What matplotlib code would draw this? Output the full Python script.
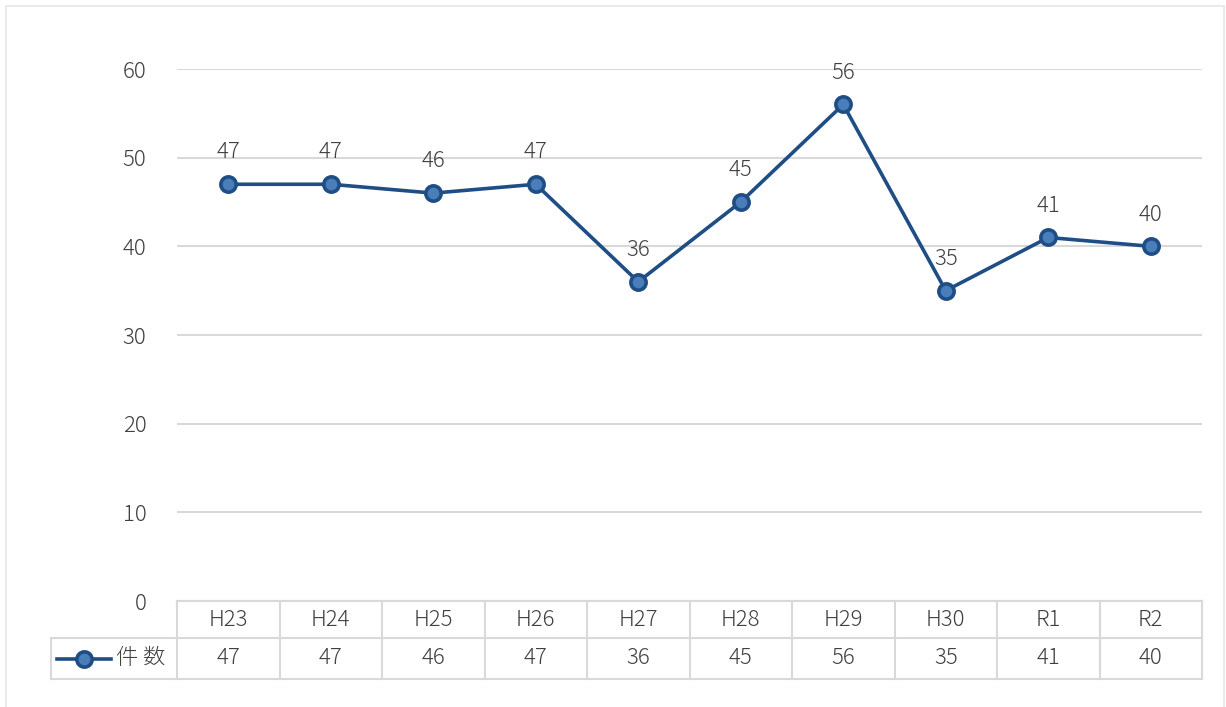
import matplotlib.pyplot as plt
import matplotlib.transforms as mtransforms
from matplotlib.lines import Line2D
from matplotlib.patches import Rectangle

# データ
categories = ['H23', 'H24', 'H25', 'H26', 'H27', 'H28', 'H29', 'H30', 'R1', 'R2']
counts = [47, 47, 46, 47, 36, 45, 56, 35, 41, 40]
series_name = '件 数'
y_ticks = [0, 10, 20, 30, 40, 50, 60]

plt.rcParams['font.family'] = ['Noto Sans CJK JP', 'DejaVu Sans']
plt.rcParams['font.weight'] = 'light'

LINE_COLOR = '#1f4e85'
MARKER_FACE = '#4a7ebb'
GRID_COLOR = '#d9d9d9'
TEXT_COLOR = '#404040'
FS = 16

W, H = 1226, 707
fig = plt.figure(figsize=(W / 100, H / 100), dpi=100)

# 外枠
fig.patches.append(Rectangle((6 / W, -0.01), (1224 - 6) / W, 1.01 - 6 / H,
                             transform=fig.transFigure, fill=False,
                             edgecolor='#e6e6e6', linewidth=1.2))

left, right, top, bottom = 177, 1202, 69, 601
ax = fig.add_axes([left / W, 1 - bottom / H, (right - left) / W, (bottom - top) / H])

x = list(range(len(categories)))
ax.plot(x, counts, color=LINE_COLOR, linewidth=2.6, marker='o', markersize=11,
        markerfacecolor=MARKER_FACE, markeredgecolor=LINE_COLOR, markeredgewidth=2.6,
        zorder=3, clip_on=False)

for xi, v in zip(x, counts):
    ax.annotate(str(v), (xi, v), xytext=(0, 15), textcoords='offset points',
                ha='center', va='bottom', fontsize=FS, color=TEXT_COLOR, annotation_clip=False)

# 軸設定
ax.set_xlim(-0.5, len(categories) - 0.5)
ax.set_ylim(0, 60)
ax.set_yticks(y_ticks)
ax.set_yticklabels([str(t) for t in y_ticks], fontsize=FS, color=TEXT_COLOR)
ax.tick_params(axis='y', length=0, pad=22)
ax.set_xticks([])
ax.grid(axis='y', color=GRID_COLOR, linewidth=1.5)
ax.set_axisbelow(True)
for s in ax.spines.values():
    s.set_visible(False)

# データテーブル
trans = mtransforms.blended_transform_factory(ax.transData, ax.transAxes)
row1 = -(638 - bottom) / (bottom - top)
row2 = -(679 - bottom) / (bottom - top)
tbl_left = (51 - left) / ((right - left) / len(categories)) - 0.5
lw = 1.5


def tline(xs, ys):
    ax.add_line(Line2D(xs, ys, transform=trans, color=GRID_COLOR, linewidth=lw, clip_on=False))


tline([-0.5, len(categories) - 0.5], [0, 0])
tline([tbl_left, len(categories) - 0.5], [row1, row1])
tline([tbl_left, len(categories) - 0.5], [row2, row2])
for k in range(len(categories) + 1):
    tline([k - 0.5, k - 0.5], [0, row2])
tline([tbl_left, tbl_left], [row1, row2])

for xi, cat, v in zip(x, categories, counts):
    ax.text(xi, row1 / 2, cat, transform=trans, ha='center', va='center',
            fontsize=FS, color=TEXT_COLOR)
    ax.text(xi, (row1 + row2) / 2, str(v), transform=trans, ha='center', va='center',
            fontsize=FS, color=TEXT_COLOR)

# 凡例キー
unit = (right - left) / len(categories)
key_x0 = (57 - left) / unit - 0.5
key_x1 = (111 - left) / unit - 0.5
ymid = (row1 + row2) / 2
ax.add_line(Line2D([key_x0, key_x1], [ymid, ymid], transform=trans, color=LINE_COLOR,
                   linewidth=2.6, clip_on=False))
ax.add_line(Line2D([(key_x0 + key_x1) / 2], [ymid], transform=trans, marker='o',
                   markersize=11, markerfacecolor=MARKER_FACE, markeredgecolor=LINE_COLOR,
                   markeredgewidth=2.6, clip_on=False))
ax.text((116 - left) / unit - 0.5, ymid, series_name, transform=trans, ha='left', va='center',
        fontsize=FS, color=TEXT_COLOR)

fig.savefig('out.png', dpi=100)
